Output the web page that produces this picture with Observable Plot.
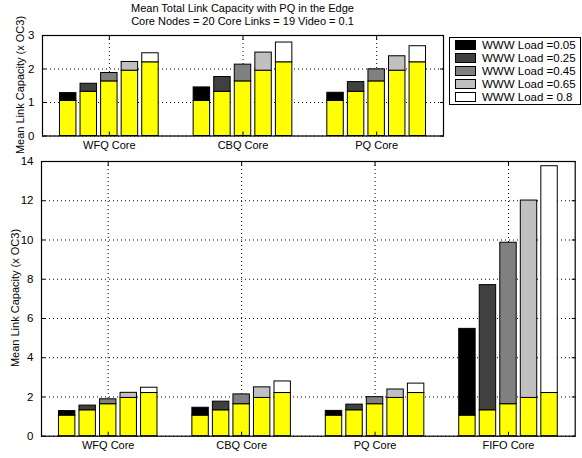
<!DOCTYPE html>
<html>
<head>
<meta charset="utf-8">
<script src="https://cdn.jsdelivr.net/npm/d3@7"></script>
<script src="https://cdn.jsdelivr.net/npm/@observablehq/plot@0.6"></script>
<style>
  html, body { margin: 0; padding: 0; background: white; }
  #root { position: relative; width: 582px; height: 458px; font-family: "Liberation Sans", Arial, sans-serif; color: black; }
  #root svg { position: absolute; }
  .title { position: absolute; left: 42px; width: 401px; text-align: center; font-size: 11px; line-height: 13px; top: 2px; }
  .ylab { position: absolute; font-size: 11px; white-space: nowrap; transform: translate(-50%, -50%) rotate(-90deg); }
  .legend { position: absolute; left: 449px; top: 37px; width: 130px; height: 66px; border: 1px solid black; background: white; font-size: 11.5px; }
  .legend .row { position: absolute; left: 5px; height: 13px; display: flex; align-items: center; }
  .legend .sw { width: 19px; height: 8px; border: 1px solid #000; margin-right: 6px; }
</style>
</head>
<body>
<div id="root"></div>
<script>
// ---- data ----
const groups = ["WFQ Core", "CBQ Core", "PQ Core", "FIFO Core"];
const loads = ["0.05", "0.25", "0.45", "0.65", "0.8"];
const loadLabels = ["WWW Load =0.05", "WWW Load =0.25", "WWW Load =0.45", "WWW Load =0.65", "WWW Load = 0.8"];
const loadColors = ["#000000", "#404040", "#808080", "#c0c0c0", "#ffffff"];
const videoPart = [1.05, 1.32, 1.63, 1.95, 2.20];        // yellow base of every bar
const totalWFQ  = [1.28, 1.56, 1.88, 2.21, 2.47];
const totalCBQ  = [1.45, 1.76, 2.13, 2.49, 2.79];
const totalPQ   = [1.29, 1.61, 1.99, 2.38, 2.68];
const totalFIFO = [5.47, 7.70, 9.86, 12.01, 13.76];
const totals = [totalWFQ, totalCBQ, totalPQ, totalFIFO];
const topTicks = [0, 1, 2, 3];
const bottomTicks = [0, 2, 4, 6, 8, 10, 12, 14];
const titleLines = ["Mean Total Link Capacity with PQ in the Edge", "Core Nodes = 20 Core Links = 19 Video = 0.1"];
const yLabel = "Mean Link Capacity (x OC3)";

// ---- build table ----
const nb = loads.length;
const slot = 1 / (nb + 1.5);
const bw = slot * 0.8;
function rowsFor(nGroups) {
  const rows = [];
  for (let gi = 0; gi < nGroups; gi++) {
    loads.forEach((l, li) => {
      const xc = gi + 1 + (li - (nb - 1) / 2) * slot;
      rows.push({group: groups[gi], load: l, video: videoPart[li], total: totals[gi][li], xa: xc - bw / 2, xb: xc + bw / 2});
    });
  }
  return rows;
}

const dash = {stroke: "#000", strokeOpacity: 1, strokeDasharray: "1,3", strokeWidth: 1};
const blank = () => "";
function panel(nGroups, yTicks, yMax, opts) {
  const rows = rowsFor(nGroups);
  const xt = d3.range(1, nGroups + 1);
  return Plot.plot({
    width: opts.width, height: opts.height,
    marginLeft: opts.ml, marginRight: opts.mr, marginTop: opts.mt, marginBottom: opts.mb,
    style: {background: "transparent", fontFamily: "Liberation Sans, Arial, sans-serif", fontSize: "11px", color: "black"},
    x: {domain: [0.5, nGroups + 0.5]},
    y: {domain: [0, yMax]},
    color: {domain: loads, range: loadColors},
    marks: [
      Plot.gridY(yTicks, dash),
      Plot.gridX(xt, dash),
      Plot.rectY(rows, {x1: "xa", x2: "xb", y1: 0, y2: "video", fill: "#ffff00", stroke: "black", strokeWidth: 1}),
      Plot.rectY(rows, {x1: "xa", x2: "xb", y1: "video", y2: "total", fill: "load", stroke: "black", strokeWidth: 1}),
      Plot.axisY(yTicks, {anchor: "left", tickSize: -4, tickFormat: blank, label: null}),
      Plot.axisY(yTicks, {anchor: "right", tickSize: -4, tickFormat: blank, label: null}),
      Plot.axisY(yTicks, {anchor: "left", tickSize: 0, tickPadding: 8, fill: "black", fontSize: 11.5, label: null}),
      Plot.axisX(xt, {anchor: "bottom", tickSize: -4, tickFormat: blank, label: null}),
      Plot.axisX(xt, {anchor: "top", tickSize: -4, tickFormat: blank, label: null}),
      Plot.axisX(xt, {anchor: "bottom", tickSize: 0, tickPadding: 5, fill: "black", fontSize: 11, label: null, tickFormat: d => groups[d - 1]}),
      Plot.frame({stroke: "black", strokeWidth: 1.2})
    ]
  });
}

const root = document.getElementById("root");
const topPanel = panel(3, topTicks, 3, {width: 450, height: 160, ml: 42, mr: 7, mt: 35, mb: 24.5});
topPanel.style.left = "0px"; topPanel.style.top = "0px";
const bottomPanel = panel(4, bottomTicks, 14, {width: 582, height: 308, ml: 41, mr: 7.3, mt: 11, mb: 22.3});
bottomPanel.style.left = "0px"; bottomPanel.style.top = "150px";
root.appendChild(topPanel);
root.appendChild(bottomPanel);

const t = document.createElement("div");
t.className = "title";
t.innerHTML = titleLines.map(s => `<div>${s}</div>`).join("");
root.appendChild(t);

[[20, 85], [15, 298]].forEach(([x, y]) => {
  const d = document.createElement("div");
  d.className = "ylab";
  d.style.left = x + "px"; d.style.top = y + "px";
  d.textContent = yLabel;
  root.appendChild(d);
});

const lg = document.createElement("div");
lg.className = "legend";
loadLabels.forEach((lab, i) => {
  const r = document.createElement("div");
  r.className = "row";
  r.style.top = (0 + i * 13.2) + "px";
  r.innerHTML = `<span class="sw" style="background:${loadColors[i]}"></span><span>${lab}</span>`;
  lg.appendChild(r);
});
root.appendChild(lg);
</script>
</body>
</html>
